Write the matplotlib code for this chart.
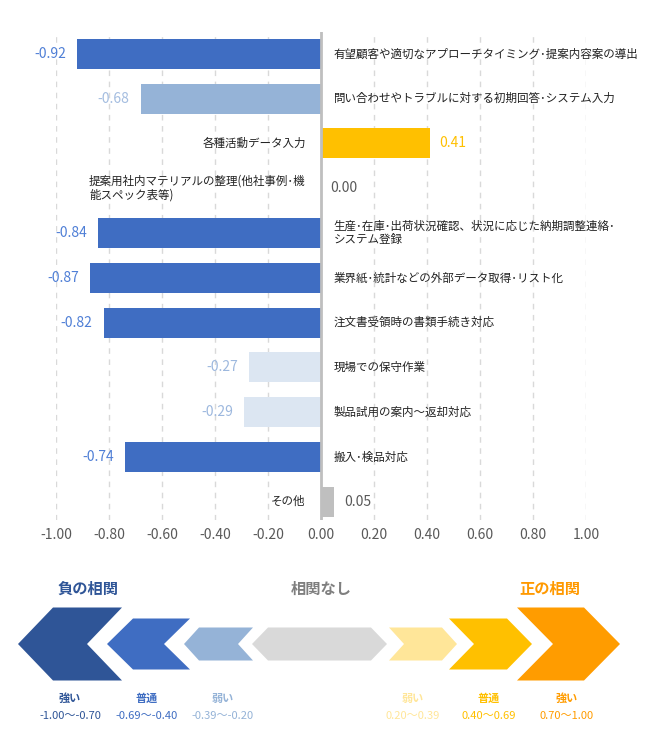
import matplotlib
matplotlib.use("Agg")
import matplotlib.pyplot as plt
from matplotlib.patches import Polygon

plt.rcParams['font.family'] = ['Noto Sans CJK JP', 'DejaVu Sans']

# --- data ---
categories = [
    "有望顧客や適切なアプローチタイミング･提案内容案の導出",
    "問い合わせやトラブルに対する初期回答･システム入力",
    "各種活動データ入力",
    "提案用社内マテリアルの整理(他社事例･機\n能スペック表等)",
    "生産･在庫･出荷状況確認、状況に応じた納期調整連絡･\nシステム登録",
    "業界紙･統計などの外部データ取得･リスト化",
    "注文書受領時の書類手続き対応",
    "現場での保守作業",
    "製品試用の案内～返却対応",
    "搬入･検品対応",
    "その他",
]
values = [-0.92, -0.68, 0.41, 0.00, -0.84, -0.87, -0.82, -0.27, -0.29, -0.74, 0.05]
x_ticks = [-1.0, -0.8, -0.6, -0.4, -0.2, 0.0, 0.2, 0.4, 0.6, 0.8, 1.0]

bar_colors = ["#3F6DC2", "#95B3D7", "#FFC000", "#BFBFBF", "#3F6DC2", "#3F6DC2",
              "#3F6DC2", "#DCE6F2", "#DCE6F2", "#3F6DC2", "#BFBFBF"]
value_colors = ["#4F7FD6", "#A4BDE0", "#FFC000", "#595959", "#4F7FD6", "#4F7FD6",
                "#4F7FD6", "#9DB8DE", "#9DB8DE", "#4F7FD6", "#595959"]

legend_titles = ["負の相関", "相関なし", "正の相関"]
legend_title_colors = ["#2F5597", "#7F7F7F", "#FF9900"]
legend_levels = ["強い", "普通", "弱い", "弱い", "普通", "強い"]
legend_ranges = ["-1.00〜-0.70", "-0.69〜-0.40", "-0.39〜-0.20",
                 "0.20〜0.39", "0.40〜0.69", "0.70〜1.00"]
legend_colors = ["#2F5597", "#3F6DC2", "#95B3D7", "#FFE699", "#FFC000", "#FF9C00"]
legend_text_colors = ["#2F5597", "#3F6DC2", "#95B3D7", "#FFE699", "#FFC000", "#FF9C00"]

W, H = 645, 745
fig = plt.figure(figsize=(W / 100, H / 100), dpi=100)

# --- bar chart ---
ax = fig.add_axes([56 / W, (H - 520) / H, (586 - 56) / W, (520 - 32) / H])
pos = list(range(len(values)))
ax.barh(pos, values, height=0.67, color=bar_colors, zorder=2)
ax.set_ylim(10.41, -0.49)
ax.set_xlim(-1.0, 1.0)
ax.set_xticks(x_ticks)
ax.set_xticklabels([f"{t:.2f}" for t in x_ticks])
ax.set_yticks([])
ax.tick_params(axis="x", length=0, pad=6, labelsize=10, labelcolor="#595959")
for s in ax.spines.values():
    s.set_visible(False)
for t in x_ticks:
    if t != 0:
        ax.axvline(t, color="#D9D9D9", lw=1, ls=(0, (4, 4)), zorder=1)
ax.axvline(0, color="#BFBFBF", lw=2, zorder=3)

for i, (cat, v) in enumerate(zip(categories, values)):
    if v < 0:
        ax.annotate(f"{v:.2f}", (v, i), xytext=(-8, 0), textcoords="offset points",
                    ha="right", va="center", fontsize=10, color=value_colors[i])
        ax.annotate(cat, (0, i), xytext=(9, 0), textcoords="offset points",
                    ha="left", va="center", fontsize=8.3, color="#222222",
                    linespacing=1.05)
    else:
        ax.annotate(f"{v:.2f}", (v, i), xytext=(7, 0), textcoords="offset points",
                    ha="left", va="center", fontsize=10, color=value_colors[i])
        ax.annotate(cat, (0, i), xytext=(-11, 0), textcoords="offset points",
                    ha="right", va="center", fontsize=8.3, color="#222222",
                    multialignment="left", linespacing=1.05)

# --- legend (pixel coordinates) ---
lg = fig.add_axes([0, 0, 1, 1])
lg.set_xlim(0, W)
lg.set_ylim(H, 0)
lg.axis("off")

cy = 644
# (left, right, half height, depth, kind)
shapes = [
    (18, 122, 36.5, 35, "left"),
    (107, 190, 25.5, 26, "left"),
    (184, 253, 16.5, 15, "left"),
    (389, 457, 16.5, 15, "right"),
    (449, 532, 25.5, 25, "right"),
    (517, 620, 36.5, 36, "right"),
]


def chevron(L, R, h, d, kind):
    if kind == "left":
        return [(L, cy), (L + d, cy - h), (R, cy - h), (R - d, cy),
                (R, cy + h), (L + d, cy + h)]
    return [(L, cy - h), (R - d, cy - h), (R, cy), (R - d, cy + h),
            (L, cy + h), (L + d, cy)]


for (L, R, h, d, kind), col in zip(shapes, legend_colors):
    lg.add_patch(Polygon(chevron(L, R, h, d, kind), closed=True, color=col, lw=0))

# gray hexagon in the middle
L, R, h, d = 252, 387, 16.5, 16
lg.add_patch(Polygon([(L, cy), (L + d, cy - h), (R - d, cy - h), (R, cy),
                      (R - d, cy + h), (L + d, cy + h)], closed=True,
                     color="#D9D9D9", lw=0))

for x, txt, col in zip([88, 321, 550], legend_titles, legend_title_colors):
    lg.text(x, 589, txt, ha="center", va="center", fontsize=11,
            fontweight="bold", color=col)

level_x = [70, 147, 223, 413, 489, 567]
for x, lev, rng, col in zip(level_x, legend_levels, legend_ranges, legend_text_colors):
    lg.text(x, 698, lev, ha="center", va="center", fontsize=8,
            fontweight="bold", color=col)
    lg.text(x, 716, rng, ha="center", va="center", fontsize=8, color=col)

fig.savefig("out.png", dpi=100)
